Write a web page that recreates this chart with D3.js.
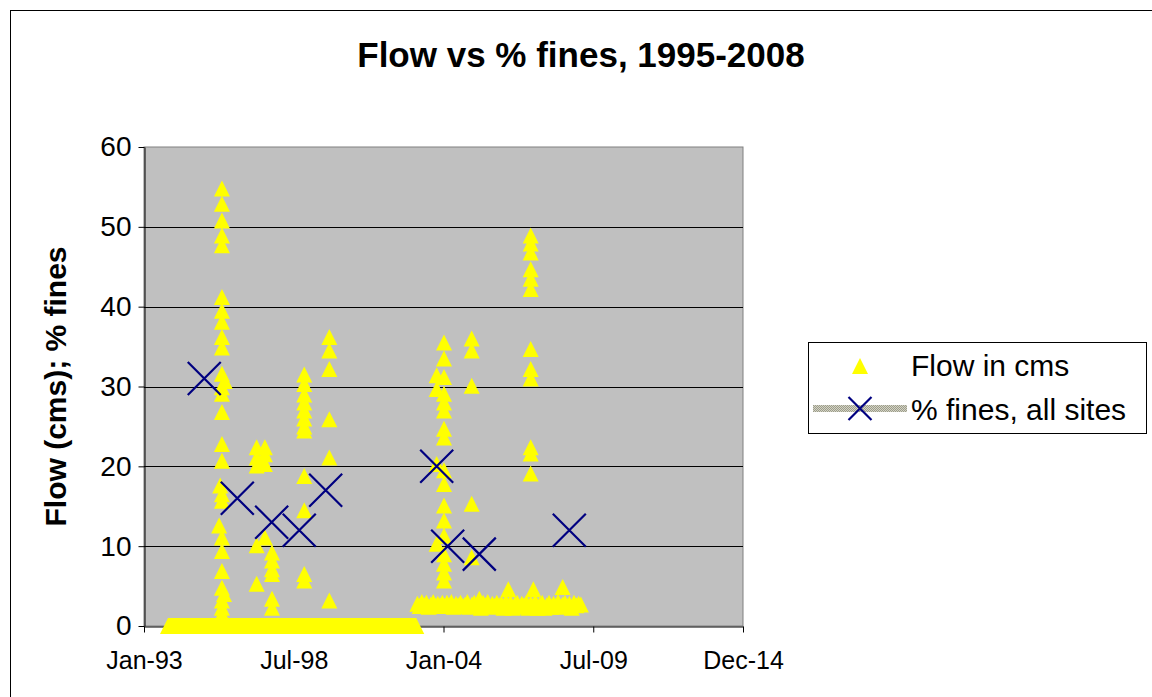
<!DOCTYPE html>
<html><head><meta charset="utf-8">
<script src="https://cdn.jsdelivr.net/npm/d3@7"></script>
<style>
body{margin:0;background:#fff}
svg{display:block}
text{font-family:"Liberation Sans",Arial,Helvetica,sans-serif;fill:#000}
</style>
</head><body>
<svg id="chart" width="1152" height="697"></svg>
<script>
// ---------------- data ----------------
const xTickLabels = ["Jan-93", "Jul-98", "Jan-04", "Jul-09", "Dec-14"];
const xDomain = ["1993-01-01", "2014-12-29"];
const yTicks = [0, 10, 20, 30, 40, 50, 60];

// individual flow readings (cms)
const flowDates = [
  // late 1995
  "1995-11-12","1995-11-12","1995-11-12","1995-11-12","1995-11-12","1995-11-12","1995-11-12","1995-11-12",
  "1995-11-12","1995-11-12","1995-11-12","1995-12-20","1995-11-12","1995-11-12","1995-11-12","1995-11-12",
  "1995-11-12","1995-10-20","1995-11-12","1995-11-12","1995-10-05","1995-11-12","1995-11-12","1995-11-12",
  "1995-11-12","1995-12-10","1995-11-12","1995-11-12","1995-11-12",
  // 1997
  "1997-02-20","1997-02-20","1997-02-20","1997-02-20","1997-02-20",
  "1997-06-10","1997-06-10","1997-06-10","1997-06-10",
  "1997-09-13","1997-09-13","1997-09-13","1997-09-13","1997-09-13","1997-09-13",
  // 1998
  "1998-11-20","1998-11-20","1998-11-20","1998-11-20","1998-11-20","1998-11-20","1998-11-20","1998-11-20",
  "1998-11-20","1998-11-20","1998-11-20","1998-11-20",
  // 1999
  "1999-10-22","1999-10-22","1999-10-22","1999-10-22","1999-10-22","1999-10-22",
  // 2003-2004
  "2003-10-01","2003-10-01","2003-10-01","2003-10-01",
  "2004-01-07","2004-01-07","2004-01-07","2004-01-07","2004-01-07","2004-01-07","2004-01-07","2004-01-07",
  "2004-01-07","2004-01-07","2004-01-07","2004-01-07","2004-01-07","2004-01-07","2004-01-07","2004-01-07","2004-01-07",
  // 2005
  "2005-01-12","2005-01-12","2005-01-12","2005-01-12","2005-01-12","2005-04-24",
  // 2006-2008
  "2006-05-18",
  "2007-03-14","2007-03-14","2007-03-14","2007-03-14","2007-03-14","2007-03-14",
  "2007-03-14","2007-03-14","2007-03-14","2007-03-14","2007-03-14","2007-03-14","2007-04-18",
  "2008-05-15"
];
const flowValues = [
  54.8,52.9,50.8,48.9,47.7,41.2,39.5,38.1,
  36.2,34.9,31.6,30.7,29.9,29.1,26.8,22.8,
  20.7,17.6,16.5,15.7,12.6,11.1,9.4,6.9,
  4.8,4.0,3.2,2.3,1.5,
  22.4,21.1,20.1,10.1,5.3,
  22.4,21.5,20.3,11.1,
  9.2,8.2,7.1,6.5,3.4,2.3,
  31.5,30.3,29.0,28.0,27.0,26.0,25.0,24.5,
  18.8,14.5,6.5,5.7,
  36.2,34.5,32.2,25.9,21.1,3.2,
  31.4,29.7,20.3,10.3,
  35.5,33.5,31.2,29.1,28.0,27.0,24.7,23.6,
  19.5,17.8,15.1,13.2,11.3,9.0,7.8,6.7,5.7,
  36.0,34.5,30.1,15.3,8.6,3.4,
  4.6,
  48.9,47.9,46.8,44.7,43.5,42.2,
  34.7,32.2,31.0,22.4,21.6,19.1,4.6,
  4.9
];

// dense run of zero-flow daily records (drawn as a continuous row of markers)
const zeroFlowRun = ["1993-11-19", "2002-12-31"];

// monthly low-flow readings, 2003-2009
const lowFlowYears = [2003, 2004, 2005, 2006, 2007, 2008, 2009];
const lowFlowMonthly = [
  [2.8,2.5,3.0,2.6,2.9,2.4,2.7,3.0,2.5,2.8,2.6,2.9],
  [2.5,2.9,2.6,3.0,2.4,2.8,2.6,2.9,2.5,2.7,3.0,2.4],
  [2.7,2.9,2.5,2.8,2.3,2.9,2.6,3.0,2.4,2.8,2.5,2.9],
  [2.6,2.8,2.3,3.0,2.5,2.9,2.3,2.7,2.9,2.4,2.8,2.6],
  [2.9,2.3,2.8,2.5,3.0,2.3,2.7,2.9,2.3,2.6,2.9,2.4],
  [2.8,2.5,3.0,2.4,2.7,2.9,2.5,2.8,2.3,2.9,2.6,2.8],
  [2.7]
];

// % fines, all sites
const finesDates = ["1995-03-20","1996-06-05","1997-09-09","1998-09-14","1999-09-03",
                    "2003-10-01","2004-02-25","2005-04-24","2008-08-13"];
const finesValues = [31, 16, 13, 12, 17, 20, 10, 9, 12];

// ---------------- drawing ----------------
const parse = d3.timeParse("%Y-%m-%d");
const svg = d3.select("#chart");
const plot = {left: 144, right: 743, top: 147, bottom: 626};

// chart area border
svg.append("rect").attr("x", 10.5).attr("y", 10.5).attr("width", 1160).attr("height", 720)
  .attr("fill", "#fff").attr("stroke", "#000").attr("stroke-width", 1);

const x = d3.scaleTime().domain(xDomain.map(parse)).range([plot.left, plot.right]);
const y = d3.scaleLinear().domain([0, 60]).range([plot.bottom, plot.top]);

// plot area
svg.append("rect").attr("x", plot.left).attr("y", plot.top)
  .attr("width", plot.right - plot.left).attr("height", plot.bottom - plot.top)
  .attr("fill", "#C0C0C0").attr("stroke", "#808080").attr("stroke-width", 1);

// gridlines
svg.append("g").selectAll("line").data(yTicks.filter(v => v > 0 && v < 60)).join("line")
  .attr("x1", plot.left).attr("x2", plot.right)
  .attr("y1", d => Math.round(y(d)) + 0.5).attr("y2", d => Math.round(y(d)) + 0.5)
  .attr("stroke", "#000").attr("stroke-width", 1);

// x ticks evenly spaced across the domain
const d0 = x.domain()[0].getTime(), d1 = x.domain()[1].getTime();
const xTickDates = xTickLabels.map((l, i) => new Date(d0 + (d1 - d0) * i / (xTickLabels.length - 1)));

const xAxis = d3.axisBottom(x).tickValues(xTickDates)
  .tickFormat((d, i) => xTickLabels[i]).tickSizeInner(6).tickSizeOuter(0).tickPadding(19);
const gx = svg.append("g").attr("transform", `translate(0,${plot.bottom + 0.5})`).call(xAxis);
gx.select(".domain").attr("stroke", "#000");
gx.selectAll(".tick line").attr("stroke", "#000");
gx.selectAll(".tick text").attr("font-size", 25).attr("font-family", "Liberation Sans, Arial, sans-serif")
  .attr("fill", "#000").attr("dy", "0.71em");

const yAxis = d3.axisLeft(y).tickValues(yTicks).tickSizeInner(6).tickSizeOuter(0).tickPadding(7);
const gy = svg.append("g").attr("transform", `translate(${plot.left + 0.5},0)`).call(yAxis);
gy.select(".domain").attr("stroke", "#000");
gy.selectAll(".tick line").attr("stroke", "#000");
gy.selectAll(".tick text").attr("font-size", 28).attr("font-family", "Liberation Sans, Arial, sans-serif")
  .attr("fill", "#000");

// title
svg.append("text").attr("x", 581).attr("y", 67).attr("text-anchor", "middle")
  .attr("font-size", 35).attr("font-weight", "bold").text("Flow vs % fines, 1995-2008");

// y axis title
svg.append("text").attr("transform", `translate(66,${(plot.top + plot.bottom) / 2}) rotate(-90)`)
  .attr("text-anchor", "middle").attr("font-size", 30).attr("font-weight", "bold")
  .text("Flow (cms); % fines");

// markers
const TW = 16, TH = 16;
const tri = (cx, cy) => `M${cx},${cy - TH / 2}L${cx + TW / 2},${cy + TH / 2}L${cx - TW / 2},${cy + TH / 2}Z`;
const YELLOW = "#FFFF00", NAVY = "#000080";
const marks = svg.append("g");

// zero-flow run: envelope of a continuous row of triangle markers
{
  const xa = x(parse(zeroFlowRun[0])), xb = x(parse(zeroFlowRun[1])), yc = y(0);
  marks.append("path")
    .attr("d", `M${xa - TW / 2},${yc + TH / 2}L${xa},${yc - TH / 2}L${xb},${yc - TH / 2}L${xb + TW / 2},${yc + TH / 2}Z`)
    .attr("fill", YELLOW);
}

// monthly low flows
const lowFlow = [];
lowFlowYears.forEach((yr, i) => lowFlowMonthly[i].forEach((v, m) =>
  lowFlow.push({date: new Date(yr, m, 15), value: v})));
marks.append("g").selectAll("path").data(lowFlow).join("path")
  .attr("d", d => tri(x(d.date), y(d.value))).attr("fill", YELLOW);

// individual readings
const flow = flowDates.map((d, i) => ({date: parse(d), value: flowValues[i]}));
marks.append("g").selectAll("path").data(flow).join("path")
  .attr("d", d => tri(x(d.date), y(d.value))).attr("fill", YELLOW);

// % fines X markers
const XS = 16.5;
const cross = (cx, cy, s) => `M${cx - s},${cy - s}L${cx + s},${cy + s}M${cx - s},${cy + s}L${cx + s},${cy - s}`;
const fines = finesDates.map((d, i) => ({date: parse(d), value: finesValues[i]}));
marks.append("g").selectAll("path").data(fines).join("path")
  .attr("d", d => cross(x(d.date), y(d.value), XS))
  .attr("stroke", NAVY).attr("stroke-width", 2.2).attr("fill", "none");

// legend
const defs = svg.append("defs");
const pat = defs.append("pattern").attr("id", "hatch").attr("width", 2).attr("height", 2)
  .attr("patternUnits", "userSpaceOnUse");
pat.append("rect").attr("width", 2).attr("height", 2).attr("fill", "#d4d4c4");
pat.append("rect").attr("width", 1).attr("height", 1).attr("fill", "#9c9c8c");
pat.append("rect").attr("x", 1).attr("y", 1).attr("width", 1).attr("height", 1).attr("fill", "#9c9c8c");

const lg = svg.append("g");
lg.append("rect").attr("x", 808.5).attr("y", 342.5).attr("width", 338).attr("height", 91)
  .attr("fill", "#fff").attr("stroke", "#000").attr("stroke-width", 1);
lg.append("path").attr("d", tri(860, 366)).attr("fill", YELLOW);
lg.append("text").attr("x", 911).attr("y", 376).attr("font-size", 30).text("Flow in cms");
lg.append("rect").attr("x", 813).attr("y", 405).attr("width", 94).attr("height", 7).attr("fill", "url(#hatch)");
lg.append("path").attr("d", cross(860, 408.5, 11.5)).attr("stroke", NAVY).attr("stroke-width", 2.2).attr("fill", "none");
lg.append("text").attr("x", 911).attr("y", 420).attr("font-size", 30).text("% fines, all sites");
</script>
</body></html>
